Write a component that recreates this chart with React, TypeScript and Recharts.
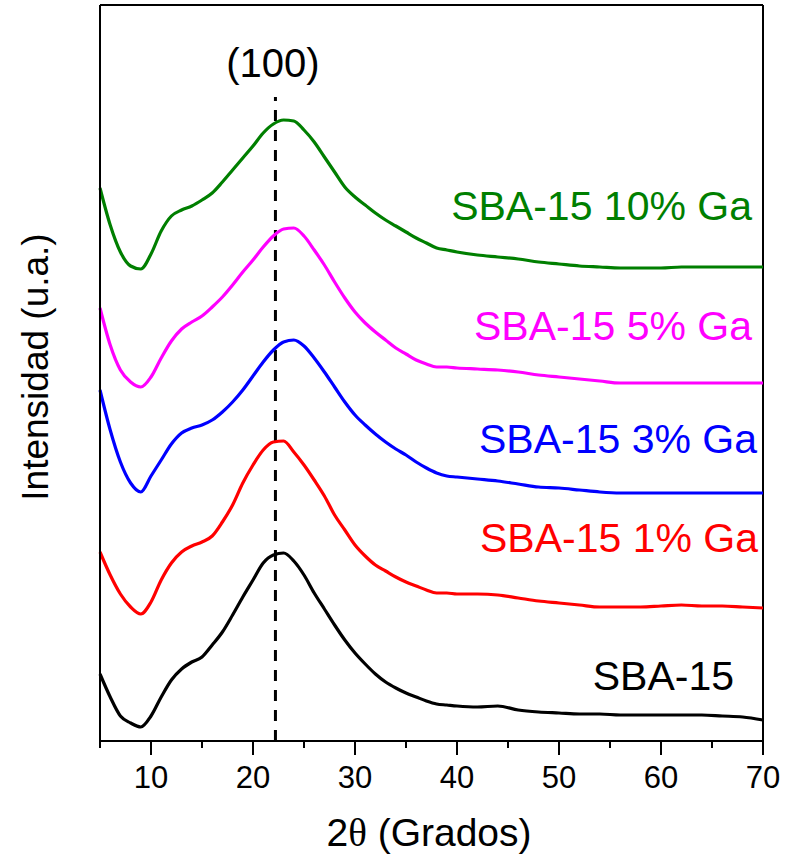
import React from "react"
import { LineChart, Line, XAxis, YAxis, ReferenceLine } from "recharts"

// 2θ positions (degrees)
const twoTheta = [
  5, 6, 7, 8, 9, 10, 11, 12, 13, 14, 15, 16, 17, 18, 19, 20, 21, 22, 23, 24, 25, 26, 27, 28, 29, 30, 31, 32, 33, 34, 35,
  36, 37, 38, 39, 40, 42, 44, 46, 48, 50, 52, 54, 56, 58, 60, 62, 64, 66, 68, 70,
]

// intensities (a.u., stacked with offsets as in the figure)
const sba15 = [
  67, 44, 25, 18, 14, 25, 44, 61, 72, 79, 84, 96, 109, 126, 144, 161, 178, 186, 188, 180, 166, 148, 132, 116, 101, 88, 77,
  67, 59, 53, 48, 44, 40, 37, 36, 35, 34, 35, 31, 29, 28, 27, 27, 26, 26, 26, 26, 26, 25, 24, 21,
]
const ga1 = [
  189, 166, 147, 134, 127, 139, 161, 178, 189, 195, 199, 205, 219, 236, 258, 276, 291, 299, 300, 289, 276, 261, 245, 226,
  211, 196, 185, 176, 170, 164, 159, 155, 151, 148, 148, 147, 147, 146, 143, 140, 138, 136, 134, 134, 134, 135, 136, 135,
  135, 134, 133,
]
const ga3 = [
  351, 311, 279, 258, 249, 265, 281, 297, 308, 313, 316, 321, 329, 339, 351, 365, 379, 391, 399, 401, 395, 383, 369, 354,
  339, 326, 316, 307, 299, 292, 286, 279, 273, 268, 265, 264, 262, 260, 257, 254, 253, 251, 249, 248, 248, 248, 248, 248,
  248, 248, 248,
]
const ga5 = [
  433, 396, 371, 359, 354, 364, 383, 400, 412, 419, 425, 434, 444, 456, 469, 481, 494, 505, 512, 513, 505, 491, 476, 459,
  443, 429, 418, 409, 401, 393, 387, 381, 377, 374, 374, 373, 372, 371, 369, 366, 364, 362, 360, 358, 358, 358, 358, 358,
  358, 358, 358,
]
const ga10 = [
  553, 516, 489, 475, 472, 487, 510, 525, 531, 535, 541, 548, 559, 571, 583, 595, 608, 617, 621, 620, 611, 599, 584, 569,
  554, 544, 536, 528, 521, 515, 509, 503, 498, 493, 491, 489, 486, 484, 482, 479, 477, 475, 474, 473, 473, 473, 474, 474,
  474, 474, 474,
]

const xTicks = [5, 10, 15, 20, 25, 30, 35, 40, 45, 50, 55, 60, 65, 70]
const peakPos = 22.2

const series = [
  { key: "sba15", label: "SBA-15", color: "#000000", values: sba15 },
  { key: "ga1", label: "SBA-15 1% Ga", color: "#FF0000", values: ga1 },
  { key: "ga3", label: "SBA-15 3% Ga", color: "#0000FF", values: ga3 },
  { key: "ga5", label: "SBA-15 5% Ga", color: "#FF00FF", values: ga5 },
  { key: "ga10", label: "SBA-15 10% Ga", color: "#007F00", values: ga10 },
]

const data = twoTheta.map((t, i) => {
  const row: Record<string, number> = { t }
  series.forEach((s) => (row[s.key] = s.values[i]))
  return row
})

const FONT = "Arial, 'Liberation Sans', sans-serif"

const XTick = (props: any) => {
  const { x, y, payload } = props
  const major = payload.value % 10 === 0
  return (
    <g>
      <line x1={x} x2={x} y1={y} y2={y + (major ? 14 : 7)} stroke="#000" strokeWidth={2} />
      {major && (
        <text x={x} y={y + 47} textAnchor="middle" fontSize={31} fontFamily={FONT} fill="#000">
          {payload.value}
        </text>
      )}
    </g>
  )
}

// label placement: [right end x, baseline y] in page pixels
const labelPos: Record<string, [number, number]> = {
  sba15: [734, 690],
  ga1: [758, 552],
  ga3: [757, 453],
  ga5: [752, 340],
  ga10: [752, 220],
}

export default function App() {
  return (
    <div style={{ position: "absolute", left: 0, top: 0, background: "#fff" }}>
      <LineChart width={785} height={856} data={data} margin={{ top: 5, right: 22, bottom: 0, left: 0 }}>
        <XAxis
          dataKey="t"
          type="number"
          domain={[5, 70]}
          ticks={xTicks}
          interval={0}
          tickSize={0}
          tickMargin={0}
          tick={<XTick />}
          tickLine={false}
          axisLine={{ stroke: "#000", strokeWidth: 2 }}
          height={115}
        />
        <YAxis
          type="number"
          domain={[0, 736]}
          width={100}
          tick={false}
          tickLine={false}
          axisLine={{ stroke: "#000", strokeWidth: 2 }}
        />
        <ReferenceLine y={736} stroke="#000" strokeWidth={2} />
        <ReferenceLine x={70} stroke="#000" strokeWidth={2} />
        <ReferenceLine
          segment={[
            { x: peakPos, y: 0 },
            { x: peakPos, y: 644 },
          ]}
          stroke="#000"
          strokeWidth={3}
          strokeDasharray="11 9"
        />
        {series.map((s) => (
          <Line
            key={s.key}
            dataKey={s.key}
            type="monotone"
            stroke={s.color}
            strokeWidth={3.2}
            dot={false}
            isAnimationActive={false}
          />
        ))}
        {series.map((s) => (
          <text
            key={s.key + "-label"}
            x={labelPos[s.key][0]}
            y={labelPos[s.key][1]}
            textAnchor="end"
            fontSize={41}
            fontFamily={FONT}
            fill={s.color}
          >
            {s.label}
          </text>
        ))}
        <text x={273} y={77} textAnchor="middle" fontSize={40} fontFamily={FONT} fill="#000">
          (100)
        </text>
        <text x={429} y={846} textAnchor="middle" fontSize={39} fontFamily={FONT} fill="#000">
          2<tspan fontFamily="'Liberation Serif', serif">θ</tspan> (Grados)
        </text>
        <text
          x={48}
          y={367}
          textAnchor="middle"
          fontSize={37}
          fontFamily={FONT}
          fill="#000"
          transform="rotate(-90, 48, 367)"
        >
          Intensidad (u.a.)
        </text>
      </LineChart>
    </div>
  )
}
